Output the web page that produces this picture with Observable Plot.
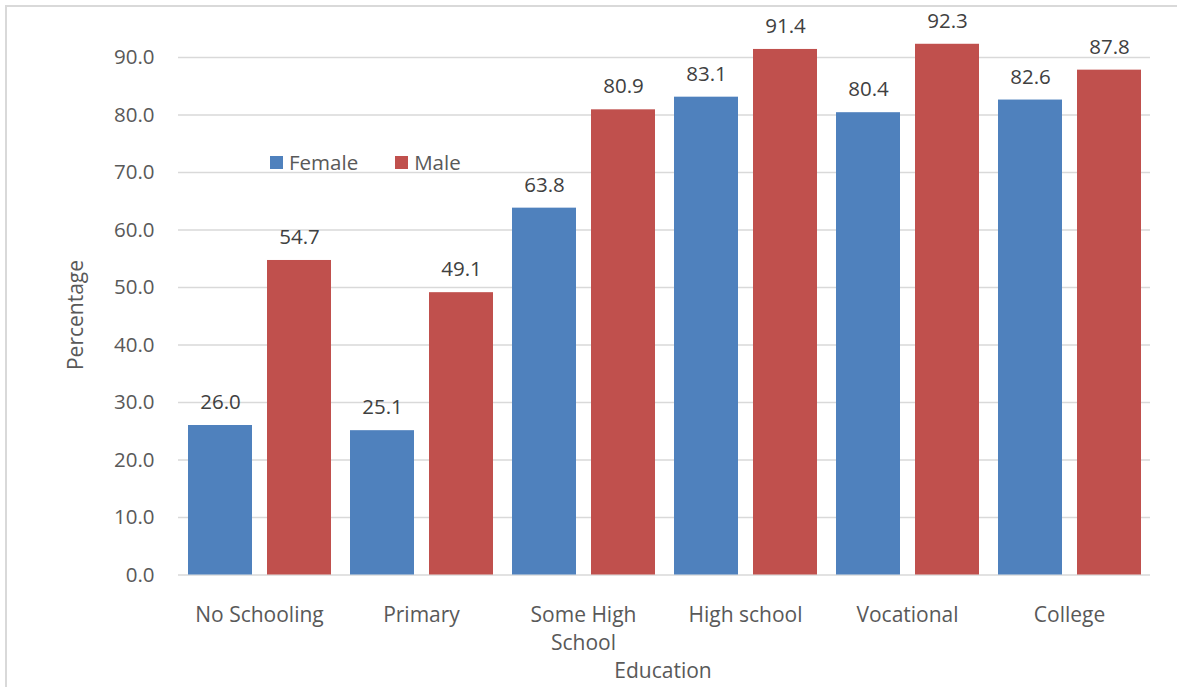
<!DOCTYPE html>
<html>
<head>
<meta charset="utf-8">
<script src="https://cdn.jsdelivr.net/npm/d3@7"></script>
<script src="https://cdn.jsdelivr.net/npm/@observablehq/plot@0.6"></script>
<style>
  html, body { margin: 0; padding: 0; background: #fff; }
  #wrap { position: relative; width: 1177px; height: 687px; overflow: hidden; font-family: "Open Sans", sans-serif; }
  #frame { position: absolute; left: 5px; top: 5px; width: 1200px; height: 720px; border: 2px solid #d9d9d9; box-sizing: border-box; }
  #chart { position: absolute; left: 0; top: 0; }
  .title { position: absolute; color: #595959; font-size: 21px; white-space: nowrap; }
  #ytitle { left: 75px; top: 315px; transform: translate(-50%, -50%) rotate(-90deg); }
  #xtitle { left: 663px; top: 670px; transform: translate(-50%, -50%); }
  #legend { position: absolute; left: 270px; top: 148px; display: flex; align-items: center; font-size: 20.5px; color: #595959; }
  #legend .sw { display: inline-block; width: 13px; height: 13px; margin-right: 6px; }
  #legend .item { display: flex; align-items: center; margin-right: 37px; }
</style>
</head>
<body>
<div id="wrap">
  <div id="frame"></div>
  <div id="chart"></div>
  <div class="title" id="ytitle">Percentage</div>
  <div class="title" id="xtitle">Education</div>
  <div id="legend"></div>
</div>
<script>
// Share of respondents by education level and sex (%)
const categories = ["No Schooling", "Primary", "Some High School", "High school", "Vocational", "College"];
const tickLabels = ["No Schooling", "Primary", "Some High\nSchool", "High school", "Vocational", "College"];
const sexes = ["Female", "Male"];
const female = [26.0, 25.1, 63.8, 83.1, 80.4, 82.6];
const male = [54.7, 49.1, 80.9, 91.4, 92.3, 87.8];
const colors = ["#4f81bd", "#c0504d"];
const yTicks = [0, 10, 20, 30, 40, 50, 60, 70, 80, 90];

const data = categories.flatMap((c, i) => [
  {edu: c, sex: "Female", value: female[i]},
  {edu: c, sex: "Male", value: male[i]}
]);
const labelOf = new Map(categories.map((c, i) => [c, tickLabels[i]]));

const chart = Plot.plot({
  width: 1177,
  height: 687,
  marginLeft: 177,
  marginRight: 27,
  marginTop: 57,
  marginBottom: 112.5,
  style: {fontFamily: "Open Sans, sans-serif", fontSize: "20px", color: "#595959", background: "transparent"},
  fx: {domain: categories, padding: 0, axis: null, label: null},
  x: {domain: sexes, paddingInner: 0.19, paddingOuter: 0.11, axis: null},
  y: {domain: [0, 90], axis: null},
  color: {domain: sexes, range: colors},
  marks: [
    Plot.gridY(yTicks, {stroke: "#d9d9d9", strokeOpacity: 1, strokeWidth: 1.6}),
    Plot.barY(data, {fx: "edu", x: "sex", y: "value", fill: "sex"}),
    Plot.text(data, {fx: "edu", x: "sex", y: "value", text: d => d.value.toFixed(1),
      dy: -23, fill: "#404040", fontSize: 20.5}),
    Plot.axisY(yTicks, {tickFormat: d3.format(".1f"), tickSize: 0, tickPadding: 24, label: null,
      fill: "#595959", fontSize: 20.5}),
    Plot.axisFx({anchor: "bottom", tickSize: 0, tickPadding: 27, label: null,
      tickFormat: d => labelOf.get(d), lineHeight: 1.35, fill: "#595959", fontSize: 21})
  ]
});
document.getElementById("chart").appendChild(chart);

// Legend
const legend = document.getElementById("legend");
sexes.forEach((s, i) => {
  const item = document.createElement("span");
  item.className = "item";
  const sw = document.createElement("span");
  sw.className = "sw";
  sw.style.background = colors[i];
  item.appendChild(sw);
  item.appendChild(document.createTextNode(s));
  legend.appendChild(item);
});
</script>
</body>
</html>
